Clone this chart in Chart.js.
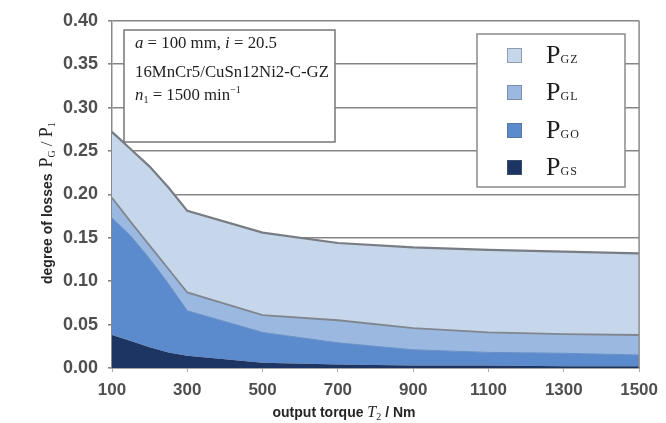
<!DOCTYPE html>
<html>
<head>
<meta charset="utf-8">
<script src="https://cdn.jsdelivr.net/npm/chart.js@4.4.1/dist/chart.umd.min.js"></script>
<style>
  html, body { margin: 0; padding: 0; background: #ffffff; }
  canvas { display: block; }
</style>
</head>
<body>
<canvas id="c" width="666" height="423"></canvas>
<script>
// ---- data ----
const torque = [100, 150, 200, 250, 300, 500, 700, 900, 1100, 1300, 1500];
const lossGS = [0.038, 0.031, 0.024, 0.018, 0.014, 0.006, 0.004, 0.003, 0.003, 0.002, 0.002];
const lossGO = [0.135, 0.121, 0.102, 0.079, 0.052, 0.035, 0.025, 0.018, 0.015, 0.015, 0.013];
const lossGL = [0.023, 0.016, 0.015, 0.017, 0.021, 0.020, 0.026, 0.025, 0.023, 0.022, 0.023];
const lossGZ = [0.076, 0.084, 0.091, 0.094, 0.094, 0.095, 0.089, 0.093, 0.095, 0.095, 0.094];
const xTickLabels = [100, 300, 500, 700, 900, 1100, 1300, 1500];
const yTickLabels = [0, 0.05, 0.10, 0.15, 0.20, 0.25, 0.30, 0.35, 0.40];
const seriesNames = ['GS', 'GO', 'GL', 'GZ'];
const infoLines = [
  [{t:'a', i:true}, {t:' = 100 mm, '}, {t:'i', i:true}, {t:' = 20.5'}],
  [{t:'16MnCr5/CuSn12Ni2-C-GZ'}],
  [{t:'n', i:true}, {t:'1', sub:true}, {t:' = 1500 min'}, {t:'\u22121', sup:true}]
];

const colors = ['#1c3562', '#5b8bcd', '#9bb9e0', '#c6d6eb'];
const borders = ['rgba(0,0,0,0)', '#6a90c6', '#80868f', '#787c83'];
const borderW = [0, 1, 1.8, 2.2];

const series = [lossGS, lossGO, lossGL, lossGZ];
const datasets = series.map((arr, k) => ({
  label: 'P' + seriesNames[k],
  data: arr.map((v, i) => ({x: torque[i], y: v})),
  backgroundColor: colors[k],
  borderColor: borders[k],
  borderWidth: borderW[k],
  fill: k === 0 ? 'origin' : '-1',
  pointRadius: 0,
  tension: 0
}));

function drawRich(ctx, segs, x, y, base) {
  let cx = x;
  for (const s of segs) {
    let size = base, dy = 0;
    if (s.sub) { size = base * 0.6; dy = base * 0.2; }
    if (s.sup) { size = base * 0.6; dy = -base * 0.4; }
    ctx.font = (s.i ? 'italic ' : '') + size + 'px "Liberation Serif", serif';
    ctx.fillText(s.t, cx, y + dy);
    cx += ctx.measureText(s.t).width;
  }
  return cx - x;
}

const overlay = {
  id: 'overlay',
  afterDraw(chart) {
    const ctx = chart.ctx;
    const a = chart.chartArea;
    ctx.save();
    // right border of plot area
    ctx.strokeStyle = '#8a8a8a';
    ctx.lineWidth = 1.5;
    ctx.beginPath();
    ctx.moveTo(a.right, a.top);
    ctx.lineTo(a.right, a.bottom);
    ctx.stroke();

    // info box
    ctx.fillStyle = '#ffffff';
    ctx.fillRect(124, 30, 211, 112);
    ctx.strokeStyle = '#777777';
    ctx.lineWidth = 1.5;
    ctx.strokeRect(124, 30, 211, 112);
    ctx.fillStyle = '#1e1e1e';
    ctx.textBaseline = 'alphabetic';
    ctx.textAlign = 'left';
    const baselines = [48, 77, 100];
    infoLines.forEach((ln, i) => drawRich(ctx, ln, 135, baselines[i], 16.8));

    // legend box
    ctx.fillStyle = '#ffffff';
    ctx.fillRect(477, 34, 148, 153);
    ctx.strokeStyle = '#8a8a8a';
    ctx.lineWidth = 1.5;
    ctx.strokeRect(477, 34, 148, 153);
    const ds = chart.data.datasets.slice().reverse();
    const tops = [48, 85, 123, 160];
    ds.forEach((d, i) => {
      ctx.fillStyle = d.backgroundColor;
      ctx.fillRect(507, tops[i], 15, 15);
      ctx.strokeStyle = 'rgba(90,100,120,0.5)';
      ctx.lineWidth = 1;
      ctx.strokeRect(507.5, tops[i] + 0.5, 14, 14);
      ctx.fillStyle = '#1e1e1e';
      const base = tops[i] + 15;
      ctx.font = '26px "Liberation Serif", serif';
      ctx.fillText('P', 546, base);
      const w = ctx.measureText('P').width;
      ctx.font = '12px "Liberation Serif", serif';
      ctx.fillText(d.label.slice(1).split('').join('\u200A'), 546 + w, base);
    });

    // y axis title (rotated)
    ctx.save();
    ctx.translate(52, 284);
    ctx.rotate(-Math.PI / 2);
    ctx.fillStyle = '#262626';
    let cx = 0;
    ctx.font = 'bold 14px "Liberation Sans", Arial, sans-serif';
    ctx.fillText('degree of losses ', cx, 0);
    cx += ctx.measureText('degree of losses ').width + 2;
    const yseg = [{t:'P', f:18, dy:0}, {t:'G', f:10, dy:3}, {t:' / ', f:17, dy:0}, {t:'P', f:18, dy:0}, {t:'1', f:10, dy:3}];
    yseg.forEach(s => {
      ctx.font = s.f + 'px "Liberation Serif", serif';
      ctx.fillText(s.t, cx, s.dy);
      cx += ctx.measureText(s.t).width;
    });
    ctx.restore();

    // x axis title
    ctx.fillStyle = '#262626';
    const xs = [
      {t:'output torque ', f:'bold 14px "Liberation Sans", Arial, sans-serif', dy:0},
      {t:'T', f:'italic 16px "Liberation Serif", serif', dy:0},
      {t:'2', f:'10px "Liberation Serif", serif', dy:3},
      {t:' / Nm', f:'bold 14px "Liberation Sans", Arial, sans-serif', dy:0}
    ];
    let tw = 0;
    xs.forEach(s => { ctx.font = s.f; tw += ctx.measureText(s.t).width; });
    let xx = 344 - tw / 2;
    xs.forEach(s => {
      ctx.font = s.f;
      ctx.fillText(s.t, xx, 417 + s.dy);
      xx += ctx.measureText(s.t).width;
    });
    ctx.restore();
  }
};

new Chart(document.getElementById('c'), {
  type: 'line',
  data: { datasets },
  options: {
    responsive: false,
    devicePixelRatio: 1,
    animation: false,
    layout: { padding: { top: 19, right: 21, left: 0, bottom: 0 } },
    plugins: { legend: { display: false }, tooltip: { enabled: false } },
    scales: {
      x: {
        type: 'linear',
        min: xTickLabels[0],
        max: xTickLabels[xTickLabels.length - 1],
        afterBuildTicks: s => { s.ticks = xTickLabels.map(v => ({ value: v })); },
        afterFit: s => { s.height = 55; },
        grid: { drawOnChartArea: false, drawTicks: true, tickLength: 4, color: '#aaaaaa' },
        border: { color: '#8a8a8a', width: 1.5 },
        ticks: {
          font: { family: '"Liberation Sans", Arial, sans-serif', size: 17, weight: 'bold' },
          color: '#4f4f4f',
          padding: 8,
          maxRotation: 0,
          autoSkip: false,
          callback: v => String(v)
        }
      },
      y: {
        stacked: true,
        min: 0,
        max: 0.4,
        afterBuildTicks: s => { s.ticks = yTickLabels.map(v => ({ value: v })); },
        afterFit: s => { s.width = 112; },
        grid: { color: '#858585', lineWidth: 1.6, tickLength: 4, drawTicks: true },
        border: { color: '#8a8a8a', width: 1.5 },
        ticks: {
          font: { family: '"Liberation Sans", Arial, sans-serif', size: 18, weight: 'bold' },
          color: '#4f4f4f',
          padding: 10,
          callback: v => Number(v).toFixed(2)
        }
      }
    }
  },
  plugins: [overlay]
});
</script>
</body>
</html>
